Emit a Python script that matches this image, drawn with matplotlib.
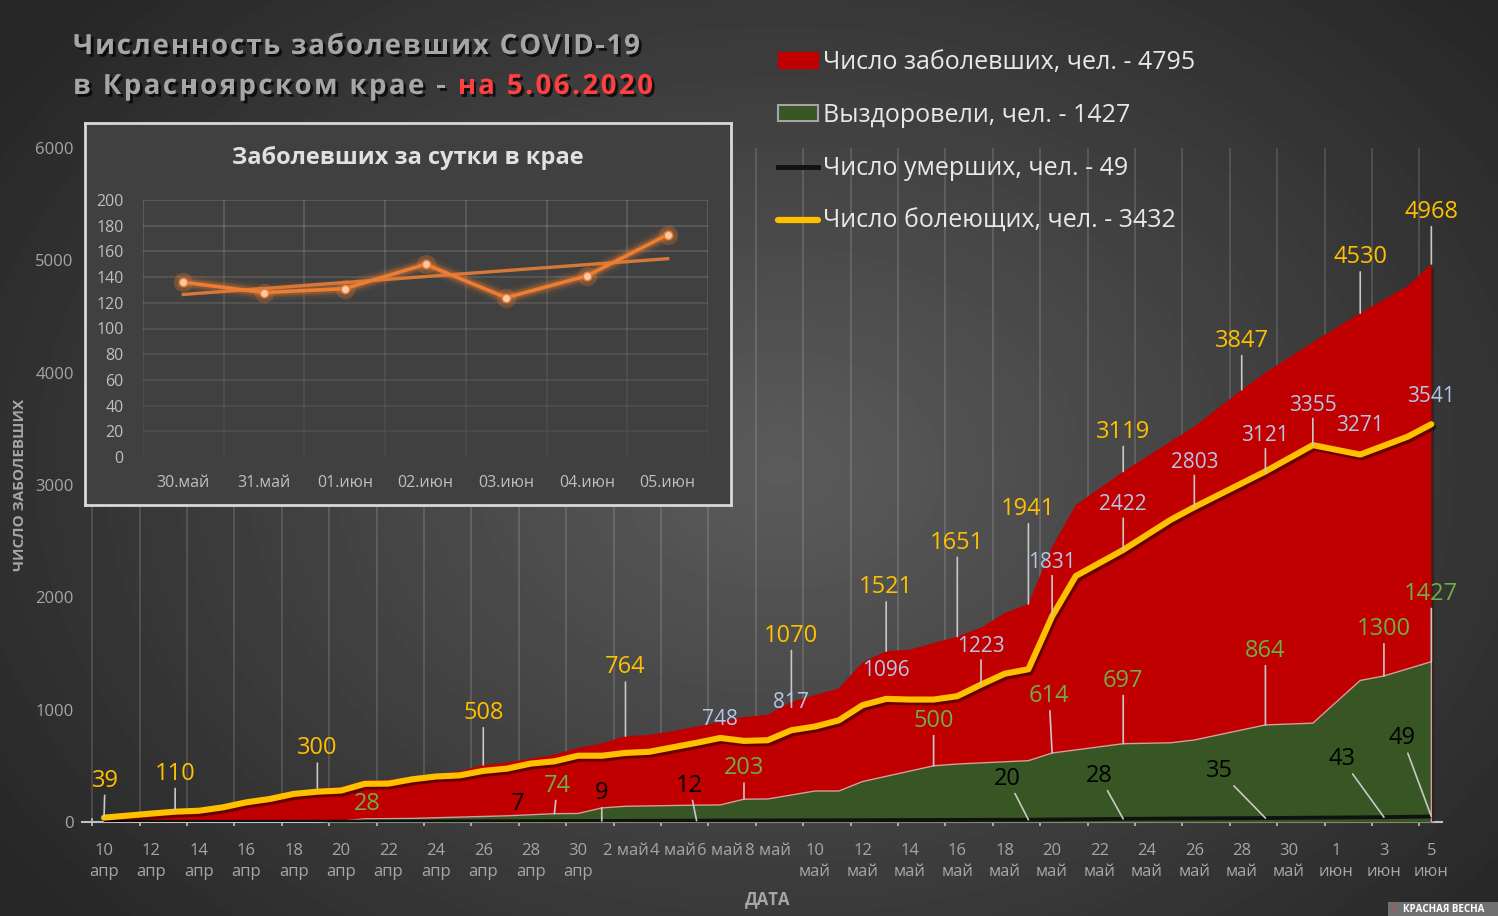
import numpy as np
import pandas as pd
import matplotlib
matplotlib.use('Agg')
import matplotlib.pyplot as plt
import matplotlib.patheffects as pe
from matplotlib.patches import Patch, Rectangle
from matplotlib.lines import Line2D

plt.rcParams['font.family'] = ['Open Sans', 'DejaVu Sans']

# ---- data ----
start = pd.Timestamp('2020-04-10')

total_dates = ['04-10', '04-12', '04-13', '04-15', '04-16', '04-18', '04-19', '04-20',
               '04-21', '04-22', '04-24', '04-25', '04-26', '04-27', '04-29', '04-30',
               '05-01', '05-02', '05-03', '05-04', '05-06', '05-07', '05-08', '05-09',
               '05-11', '05-12', '05-13', '05-14', '05-16', '05-17', '05-18', '05-19',
               '05-20', '05-21', '05-23', '05-26', '05-28', '05-29', '05-31', '06-02',
               '06-04', '06-05']
total_vals = [39, 80, 110, 140, 190, 255, 300, 310,
              370, 375, 430, 450, 508, 530, 600, 660,
              700, 764, 775, 810, 890, 935, 955, 1070,
              1190, 1420, 1521, 1535, 1651, 1730, 1860, 1941,
              2450, 2822, 3119, 3520, 3847, 4000, 4270, 4530,
              4770, 4968]

active_dates = ['04-10', '04-12', '04-13', '04-14', '04-15', '04-16', '04-17', '04-18',
                '04-19', '04-20', '04-21', '04-22', '04-23', '04-24', '04-25', '04-26',
                '04-27', '04-28', '04-29', '04-30', '05-01', '05-02', '05-03', '05-04',
                '05-05', '05-06', '05-07', '05-08', '05-09', '05-10', '05-11', '05-12',
                '05-13', '05-14', '05-15', '05-16', '05-17', '05-18', '05-19', '05-20',
                '05-21', '05-23', '05-25', '05-26', '05-29', '05-31', '06-02', '06-04',
                '06-05']
active_vals = [39, 75, 92, 100, 130, 175, 205, 250,
               270, 280, 340, 342, 380, 405, 415, 455,
               475, 520, 540, 590, 590, 615, 625, 665,
               705, 748, 722, 728, 817, 850, 905, 1040,
               1096, 1090, 1090, 1120, 1223, 1320, 1360, 1831,
               2190, 2422, 2690, 2803, 3121, 3355, 3271, 3430,
               3541]

recov_dates = ['04-10', '04-19', '04-20', '04-21', '04-23', '04-27', '04-29', '04-30',
               '05-01', '05-02', '05-05', '05-06', '05-07', '05-08', '05-10', '05-11',
               '05-12', '05-15', '05-16', '05-19', '05-20', '05-23', '05-25', '05-26',
               '05-29', '05-31', '06-02', '06-03', '06-05']
recov_vals = [0, 0, 8, 28, 32, 55, 74, 76,
              125, 140, 150, 152, 203, 205, 276, 276,
              360, 500, 516, 546, 614, 697, 705, 730,
              864, 880, 1260, 1300, 1427]

death_dates = ['04-10', '04-20', '04-28', '05-01', '05-05', '05-19', '05-23', '05-29',
               '06-03', '06-05']
death_vals = [1, 3, 7, 9, 12, 20, 28, 35, 43, 49]

tick_labels = ['10\nапр', '12\nапр', '14\nапр', '16\nапр', '18\nапр', '20\nапр', '22\nапр',
               '24\nапр', '26\nапр', '28\nапр', '30\nапр', '2 май', '4 май', '6 май', '8 май',
               '10\nмай', '12\nмай', '14\nмай', '16\nмай', '18\nмай', '20\nмай', '22\nмай',
               '24\nмай', '26\nмай', '28\nмай', '30\nмай', '1\nиюн', '3\nиюн', '5\nиюн']

legend_labels = ['Число заболевших, чел. - 4795', 'Выздоровели, чел. - 1427',
                 'Число умерших, чел. - 49', 'Число болеющих, чел. - 3432']

title_1 = 'Численность заболевших COVID-19'
title_2a = 'в Красноярском крае - '
title_2b = 'на 5.06.2020'

inset_title = 'Заболевших за сутки в крае'
inset_cats = ['30.май', '31.май', '01.июн', '02.июн', '03.июн', '04.июн', '05.июн']
inset_vals = [136, 128, 131, 150, 124, 141, 173]

# which points carry a data label
total_lbl = ['04-10', '04-13', '04-19', '04-26', '05-02', '05-09', '05-13', '05-16',
             '05-19', '05-23', '05-28', '06-02', '06-05']
active_lbl = ['05-06', '05-09', '05-13', '05-17', '05-20', '05-23', '05-26', '05-29',
              '05-31', '06-02', '06-05']
recov_lbl = ['04-21', '04-29', '05-07', '05-15', '05-20', '05-23', '05-29', '06-03', '06-05']
death_lbl = ['04-28', '05-01', '05-05', '05-19', '05-23', '05-29', '06-03', '06-05']

# label offsets in pixels (layout only)
total_off = [(1, 37), (0, 36), (0, 40), (0, 52), (0, 69), (0, 66), (0, 64), (0, 94),
             (0, 95), (0, 40), (0, 49), (0, 56), (0, 52)]
active_off = [(0, 18), (0, 28), (0, 28), (0, 38), (0, 54), (0, 45), (0, 45), (0, 36),
              (0, 40), (0, 29), (0, 28)]
recov_off = [(3, 15), (3, 28), (0, 31), (0, 45), (-3, 57), (0, 63), (0, 74), (0, 47), (0, 68)]
death_off = [(-13, 17), (0, 28), (-7, 35), (-21, 41), (-24, 43), (-46, 47), (-42, 58), (-29, 78)]


def to_days(dates):
    return np.array([(pd.Timestamp('2020-' + d) - start).days for d in dates])


RED = '#C00000'
GREEN = '#375623'
YELLOW = '#FFC000'
GRAY = '#a6a6a6'
W, H = 1498, 916

fig = plt.figure(figsize=(14.98, 9.16), dpi=100)
renderer = fig.canvas.get_renderer()

# background radial gradient
bg = fig.add_axes([0, 0, 1, 1], zorder=-10)
yy, xx = np.mgrid[0:H, 0:W]
r = np.sqrt(((xx - 780) / 950.0) ** 2 + ((yy - 470) / 700.0) ** 2)
g = 0.36 - 0.21 * np.clip(r, 0, 1)
bg.imshow(g, cmap='gray', vmin=0, vmax=1, aspect='auto', extent=[0, 1, 0, 1])
bg.set_xlim(0, 1)
bg.set_ylim(0, 1)
bg.axis('off')

# ---- main chart ----
ax = fig.add_axes([82 / W, 94 / H, 1360 / W, 674 / H])
ax.set_facecolor('none')

xt, xa, xr, xd = to_days(total_dates), to_days(active_dates), to_days(recov_dates), to_days(death_dates)

ax.fill_between(xt, 0, total_vals, color=RED, lw=0, zorder=2,
                path_effects=[pe.SimplePatchShadow(offset=(2, -2), alpha=0.35), pe.Normal()])
ax.fill_between(xr, 0, recov_vals, color=GREEN, lw=0, zorder=3)
ax.plot(np.append(xr, xr[-1]), np.append(recov_vals, 0), color='#c9a3a0', lw=1, zorder=3.5)
ax.plot(xd, death_vals, color='#111111', lw=2.8, zorder=4, solid_capstyle='butt')
ax.plot(xa, active_vals, color=YELLOW, lw=4.4, zorder=5, solid_joinstyle='round',
        solid_capstyle='round',
        path_effects=[pe.SimpleLineShadow(offset=(1.5, -2), shadow_color='black', alpha=0.45),
                      pe.Normal()])

ax.set_xlim(-0.93, 56.45)
ax.set_ylim(0, 6000)
ax.set_xticks(np.arange(0, 57, 2))
ax.set_xticklabels(tick_labels)
ax.set_xticks(np.arange(-0.5, 56, 2), minor=True)
ax.tick_params(axis='x', which='major', length=0, pad=15, colors=GRAY, labelsize=12)
ax.tick_params(axis='x', which='minor', length=6, width=1.2, color='#bfbfbf', direction='inout')
for t in ax.get_xticklabels():
    t.set_linespacing(1.45)
ax.set_yticks(np.arange(0, 6001, 1000))
ax.tick_params(axis='y', length=0, pad=6, colors=GRAY, labelsize=12)
ax.grid(which='minor', axis='x', color='white', alpha=0.15, lw=1.3, zorder=0)
ax.set_axisbelow(True)
for s in ['top', 'right', 'left']:
    ax.spines[s].set_visible(False)
ax.spines['bottom'].set_color('#bfbfbf')
ax.spines['bottom'].set_linewidth(1.5)
ax.spines['bottom'].set_zorder(1)


def put_labels(xs, vals, dates, lbl_dates, offs, color, size, min_leader=24):
    lookup = dict(zip(dates, zip(xs, vals)))
    for d, (dx, dy) in zip(lbl_dates, offs):
        px, py = lookup[d]
        arrow = None
        if dy > min_leader:
            arrow = dict(arrowstyle='-', color='#c8c8c8', lw=1.2, shrinkA=0, shrinkB=0)
        ax.annotate(str(py), (px, py), xytext=(dx, dy), textcoords='offset pixels',
                    ha='center', va='center', color=color, fontsize=size,
                    arrowprops=arrow, zorder=10, annotation_clip=False)


put_labels(xt, total_vals, total_dates, total_lbl, total_off, YELLOW, 17)
put_labels(xa, active_vals, active_dates, active_lbl, active_off, '#b4c7e7', 15, min_leader=32)
put_labels(xr, recov_vals, recov_dates, recov_lbl, recov_off, '#70AD47', 17)
put_labels(xd, death_vals, death_dates, death_lbl, death_off, 'black', 17)

# axis titles
fig.text(20 / W, 1 - 485 / H, 'ЧИСЛО ЗАБОЛЕВШИХ', rotation=90, ha='center', va='center',
         color=GRAY, fontsize=11, fontweight='bold')
fig.text(768 / W, 1 - 899 / H, 'ДАТА', ha='center', va='center',
         color=GRAY, fontsize=12, fontweight='bold')

# ---- title (letter-spaced) ----
shadow = [pe.withSimplePatchShadow(offset=(2, -2), shadow_rgbFace='black', alpha=0.7)]
title_kw = dict(fontsize=20, fontweight='bold')


def text_w(s):
    t = fig.text(0, 0, s, **title_kw)
    w = t.get_window_extent(renderer).width
    t.remove()
    return w


def tracked(x0, base_y, s, width, colors):
    bar = text_w('|')
    offs = [text_w(s[:i] + '|') - bar for i in range(len(s))]
    trk = (width - text_w(s)) / (len(s) - 1)
    for i, ch in enumerate(s):
        if ch == ' ':
            continue
        fig.text((x0 + offs[i] + i * trk) / W, 1 - base_y / H, ch, color=colors[i],
                 ha='left', va='baseline', path_effects=shadow, **title_kw)


tracked(73, 54, title_1, 567, [GRAY] * len(title_1))
tracked(73, 94, title_2a + title_2b, 580,
        [GRAY] * len(title_2a) + ['#ff4040'] * len(title_2b))

# ---- legend ----
handles = [Patch(facecolor=RED, edgecolor=RED),
           Patch(facecolor=GREEN, edgecolor='#a5a5a5', lw=1.5),
           Line2D([], [], color='#111111', lw=3.5),
           Line2D([], [], color=YELLOW, lw=4.5, solid_capstyle='round')]
fig.legend(handles, legend_labels, loc='upper left', bbox_to_anchor=(768 / W, 1 - 40 / H),
           frameon=False, fontsize=18, labelcolor='#e8e8e8', handlelength=1.6,
           handleheight=0.6, handletextpad=0.2, labelspacing=1.12, borderaxespad=0)

# ---- inset ----
box = fig.add_axes([85 / W, 1 - 505 / H, 646 / W, 382 / H], zorder=5)
box.set_facecolor('#404040')
box.set_xticks([])
box.set_yticks([])
for s in box.spines.values():
    s.set_color('#d9d9d9')
    s.set_linewidth(2)
box.text(0.5, 1 - 35 / 382, inset_title, transform=box.transAxes,
         ha='center', va='center', color='#e0e0e0', fontsize=17, fontweight='bold')

ain = fig.add_axes([143 / W, 1 - 457 / H, 565 / W, 257 / H], zorder=6)
ain.set_facecolor('none')
xi = np.arange(len(inset_vals))
ain.set_xlim(-0.5, len(inset_vals) - 0.5)
ain.set_ylim(0, 200)
for v in range(20, 201, 20):
    ain.axhline(v, color='white', alpha=0.05 + 0.1 * v / 200, lw=1.3, zorder=0)
for b in np.arange(-0.5, len(inset_vals), 1):
    for lo in range(0, 200, 20):
        ain.plot([b, b], [lo, lo + 20], color='white', alpha=0.03 + 0.12 * (lo + 20) / 200,
                 lw=1.3, zorder=0, solid_capstyle='butt')
coef = np.polyfit(xi, inset_vals, 1)
ain.plot(xi, np.polyval(coef, xi), color='#E07B39', lw=2.4, zorder=2, alpha=0.95)
for w, a in [(12, 0.08), (8, 0.15), (5.5, 0.25)]:
    ain.plot(xi, inset_vals, color='#ED7D31', lw=w, alpha=a, zorder=2.5, solid_joinstyle='round')
ain.plot(xi, inset_vals, 'o', ms=14, color='#ED7D31', alpha=0.25, mew=0, zorder=2.6)
ain.plot(xi, inset_vals, color='#ED7D31', lw=2.6, zorder=3, solid_joinstyle='round',
         marker='o', ms=6, mfc='#F8CBAD', mec='#ED7D31', mew=1)
ain.set_xticks(xi)
ain.set_xticklabels(inset_cats)
ain.set_yticks(range(0, 201, 20))
ain.tick_params(length=0, colors='#bfbfbf', labelsize=11.5)
ain.tick_params(axis='x', pad=13)
ain.tick_params(axis='y', pad=14)
for s in ain.spines.values():
    s.set_visible(False)

# ---- watermark ----
bg.add_patch(Rectangle((1388 / W, 0), 110 / W, 14 / H, color='#707070', lw=0))
bg.text(1392 / W, 7 / H, '•', color='#ff3030', fontsize=9, ha='left', va='center')
bg.text(1403 / W, 7 / H, 'КРАСНАЯ ВЕСНА', color='white', fontsize=7, fontweight='bold',
        ha='left', va='center')

fig.savefig('out.png', dpi=100)
